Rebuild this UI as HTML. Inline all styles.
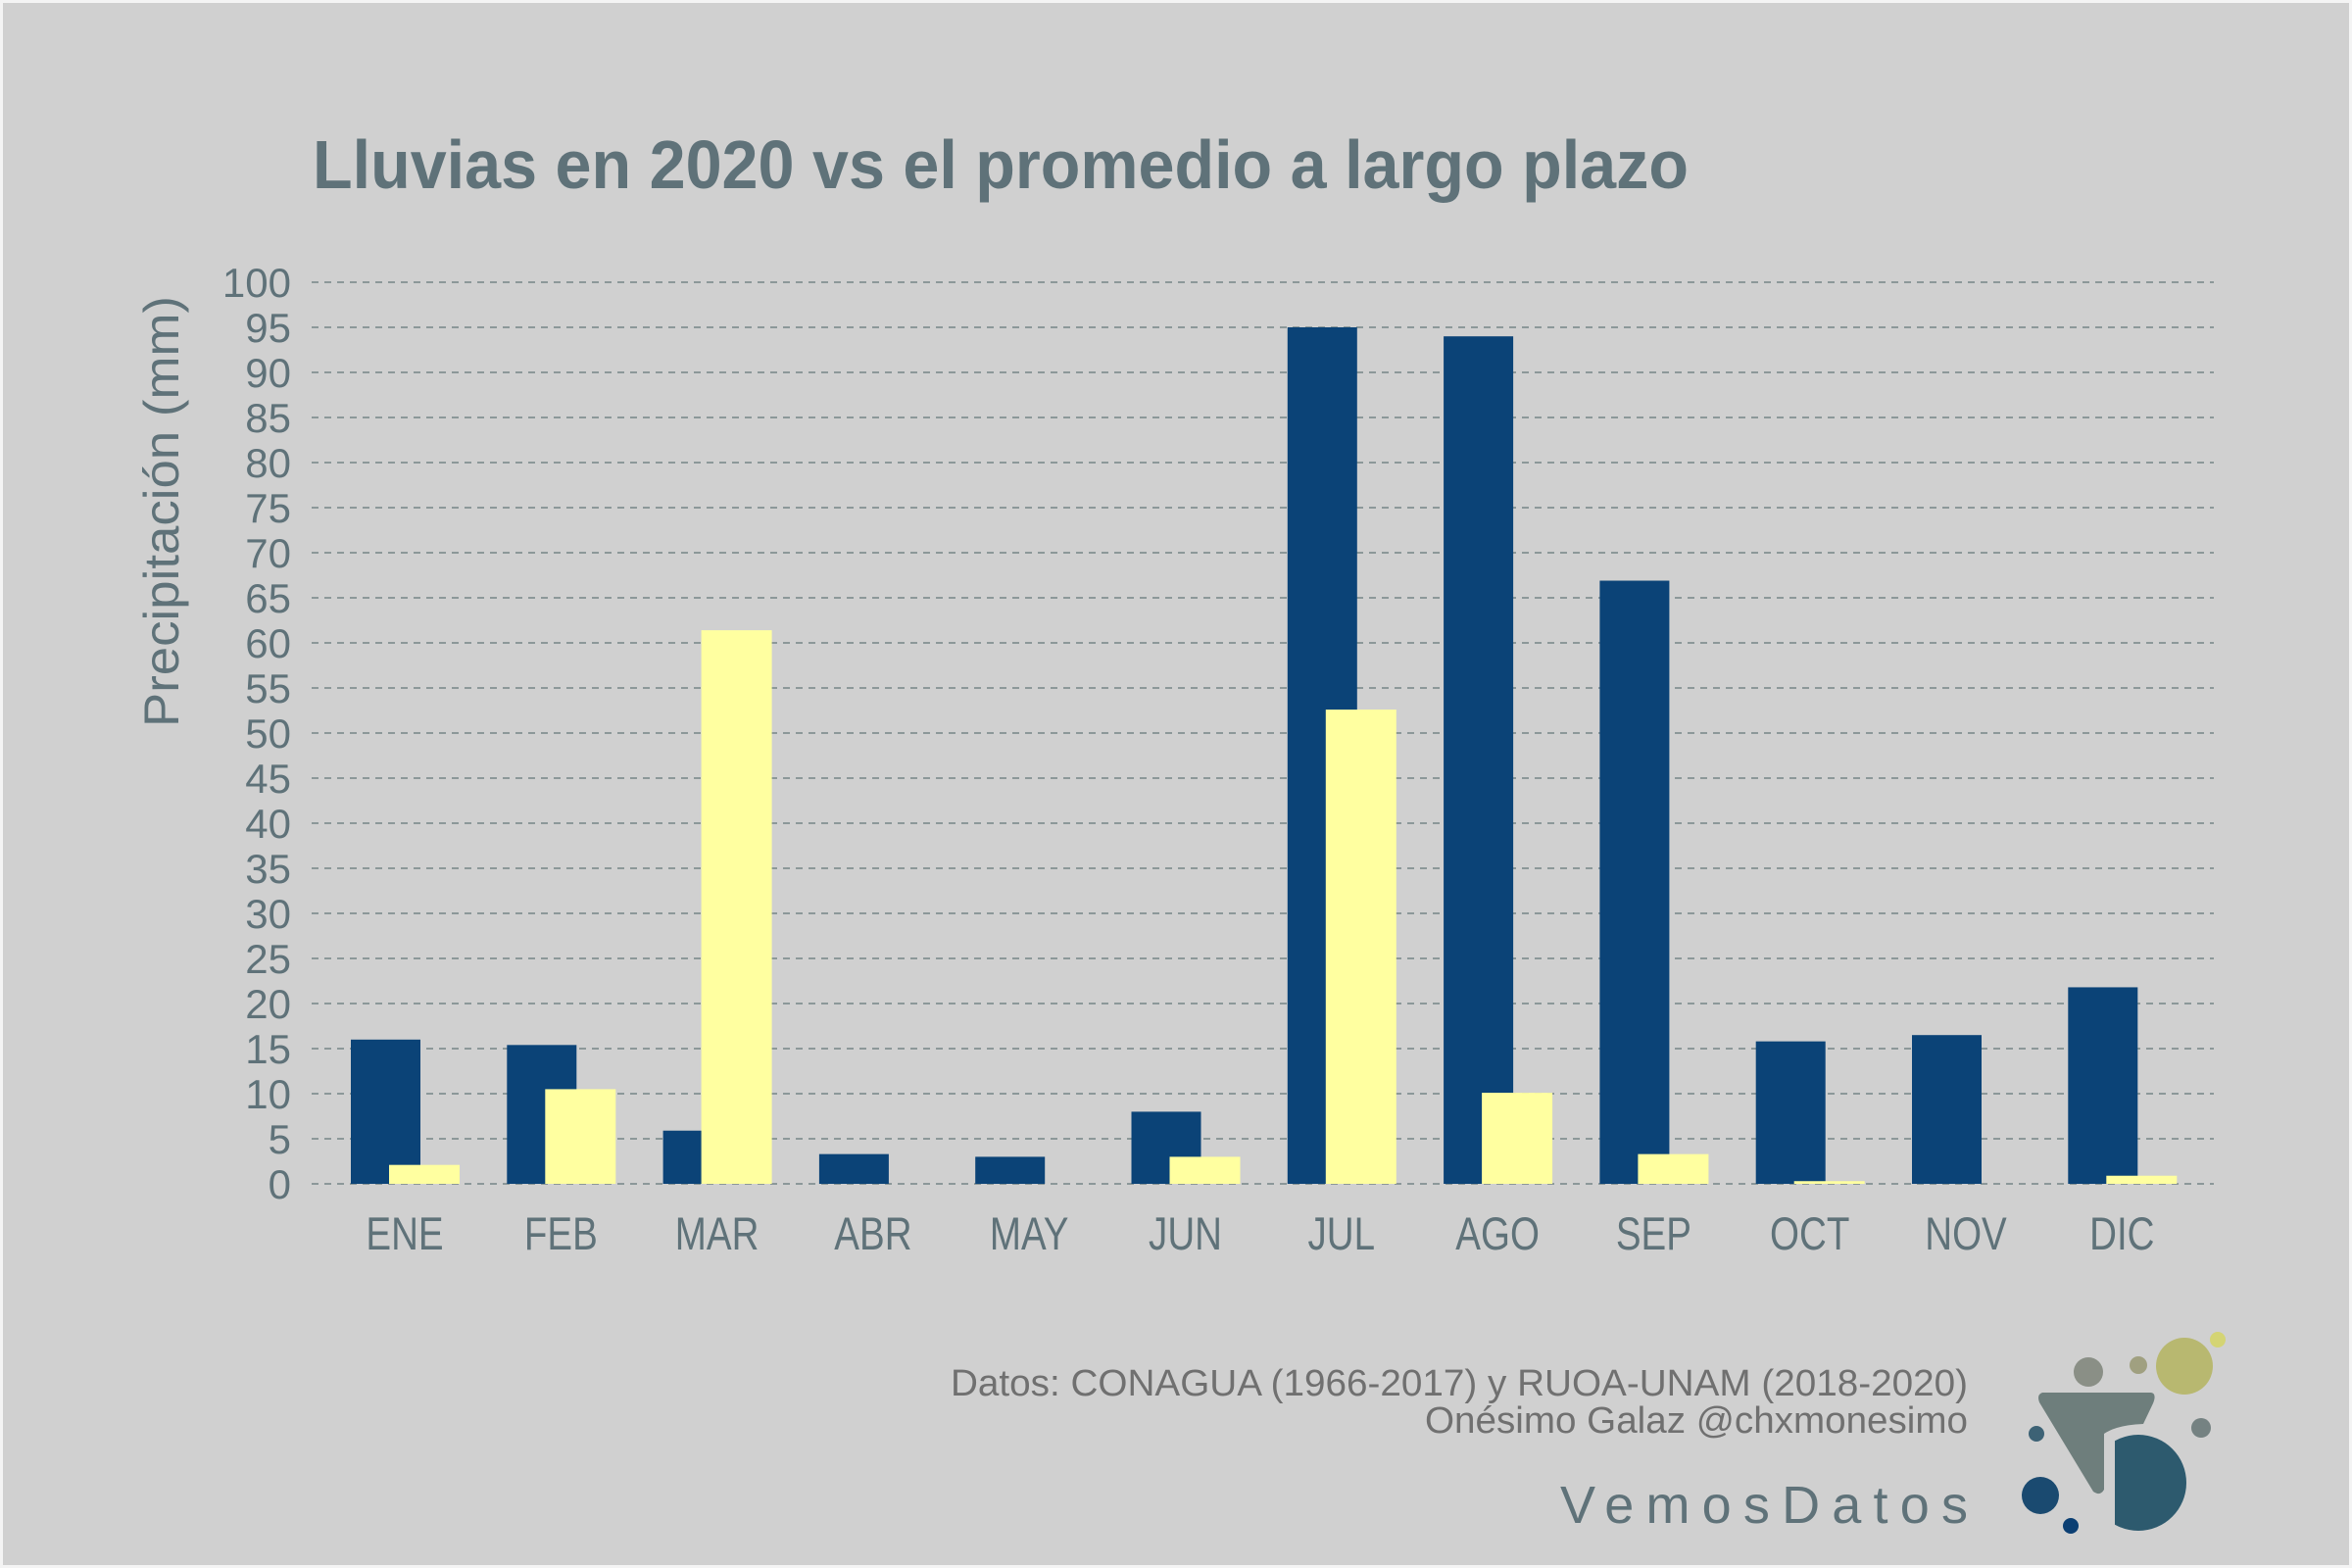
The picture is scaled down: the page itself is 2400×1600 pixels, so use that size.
<!DOCTYPE html>
<html><head><meta charset="utf-8"><style>
html,body{margin:0;padding:0;background:#fff;}
#wrap{position:relative;width:2400px;height:1600px;box-sizing:border-box;border:3px solid #f4f4f4;background:#d0d0d0;overflow:hidden;}
svg{position:absolute;left:-3px;top:-3px;}
text{font-family:"Liberation Sans",sans-serif;}
</style></head><body>
<div id="wrap">
<svg id="chart" width="2400" height="1600" viewBox="0 0 2400 1600">
  <text x="319" y="192" font-size="70" font-weight="bold" fill="#5f7279" textLength="1404" lengthAdjust="spacingAndGlyphs">Lluvias en 2020 vs el promedio a largo plazo</text>
  <text transform="translate(182,522) rotate(-90)" text-anchor="middle" font-size="50" fill="#5f7279" textLength="440" lengthAdjust="spacingAndGlyphs">Precipitación (mm)</text>
  <g id="grid"></g>
  <g id="yticks"></g>
  <g id="bars"></g>
  <g id="xticks"></g>
  <text x="970" y="1424" font-size="38" fill="#707070" textLength="1038" lengthAdjust="spacingAndGlyphs">Datos: CONAGUA (1966-2017) y RUOA-UNAM (2018-2020)</text>
  <text x="1454" y="1462" font-size="38" fill="#707070" textLength="554" lengthAdjust="spacingAndGlyphs">Onésimo Galaz @chxmonesimo</text>
  <text x="1592" y="1554" font-size="54" fill="#5f7279" textLength="416" lengthAdjust="spacing">VemosDatos</text>
  <g>
    <circle cx="2131" cy="1400" r="15" fill="#8a8f86"/>
    <circle cx="2182" cy="1393" r="9" fill="#a0a080"/>
    <circle cx="2229" cy="1394" r="29" fill="#b8b870"/>
    <circle cx="2263" cy="1367" r="8" fill="#d4d474"/>
    <circle cx="2246" cy="1457" r="10" fill="#758282"/>
    <circle cx="2078" cy="1463" r="8" fill="#3d6275"/>
    <circle cx="2082" cy="1526" r="19" fill="#1a4a70"/>
    <circle cx="2113" cy="1557" r="8" fill="#0b3f73"/>
    <path d="M2084,1421 L2195,1421 Q2201,1422 2197,1432 L2187,1453 Q2160,1454 2147,1463 L2147,1520 Q2143,1527 2136,1522 L2081,1431 Q2078,1423 2084,1421 Z" fill="#6e7e7c"/>
    <clipPath id="dclip"><rect x="2158" y="1450" width="100" height="130"/></clipPath>
    <circle cx="2182" cy="1513" r="49" fill="#2d5a6e" clip-path="url(#dclip)"/>
  </g>
</svg>
</div>
<script>
const months = ["ENE","FEB","MAR","ABR","MAY","JUN","JUL","AGO","SEP","OCT","NOV","DIC"];
const avgValues = [16.0,15.4,5.9,3.3,3.0,8.0,95.0,94.0,66.9,15.8,16.5,21.8];
const values2020 = [2.1,10.5,61.4,0,0,3.0,52.6,10.1,3.3,0.3,0,0.9];
const yTicks = [0,5,10,15,20,25,30,35,40,45,50,55,60,65,70,75,80,85,90,95,100];

const NS = "http://www.w3.org/2000/svg";
const y0 = 1208, yTop = 288, yMax = 100;
const yScale = v => y0 - (v / yMax) * (y0 - yTop);
const step = 159.3, firstX = 358;
const xScale = i => firstX + i * step;
const barW = 71;

function mk(tag, attrs, parent){ const e=document.createElementNS(NS,tag); for(const k in attrs) e.setAttribute(k,attrs[k]); parent.appendChild(e); return e; }

const grid = document.getElementById('grid');
const yt = document.getElementById('yticks');
yTicks.forEach(t => {
  const l = mk('line',{x1:318,x2:2259,y1:yScale(t),y2:yScale(t),stroke:'#8c9899','stroke-width':2,'stroke-dasharray':'7 6'},grid);
  
  
  const tx = mk('text',{x:297,y:yScale(t)+15,'text-anchor':'end','font-size':42,fill:'#5f7279'},yt);
  tx.textContent = t;
  
  
});

const bars = document.getElementById('bars');
const xt = document.getElementById('xticks');
months.forEach((m,i) => {
  const x = xScale(i);
  const a = mk('rect',{x:x,y:yScale(avgValues[i]),width:barW,height:y0-yScale(avgValues[i]),fill:'#0b4377'},bars);
  
  
  const b = mk('rect',{x:x+39,y:yScale(values2020[i]),width:barW+1,height:y0-yScale(values2020[i]),fill:'#ffffa0'},bars);
  
  
  const t = mk('text',{x:0,y:0,'text-anchor':'middle','font-size':47,fill:'#5f7279',transform:'translate('+(x+55)+',1275) scale(0.82,1)'},xt);
  t.textContent = m;
  
  
});
</script>
</body></html>
